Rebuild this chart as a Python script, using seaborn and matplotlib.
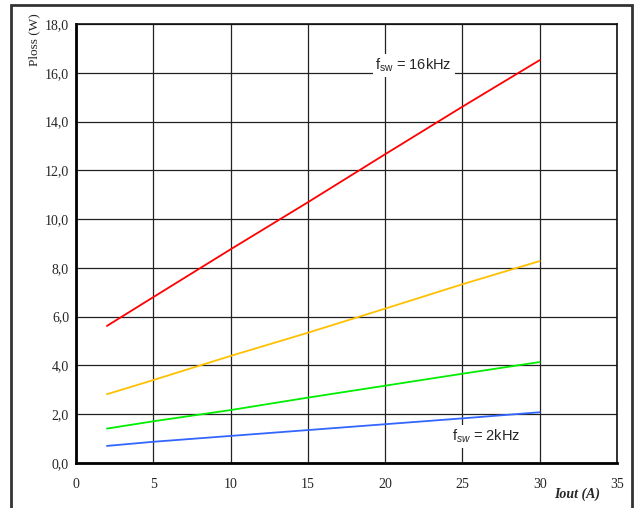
import numpy as np
import pandas as pd
import matplotlib
matplotlib.use("Agg")
import matplotlib.pyplot as plt
import seaborn as sns
from matplotlib.patches import Rectangle

# ---- data ----
iout = [2, 5, 10, 15, 20, 25, 30]
ploss_16k = [5.62, 6.80, 8.76, 10.69, 12.66, 14.61, 16.52]
ploss_8k = [2.82, 3.40, 4.39, 5.34, 6.33, 7.33, 8.28]
ploss_4k = [1.41, 1.71, 2.17, 2.68, 3.17, 3.66, 4.14]
ploss_2k = [0.70, 0.87, 1.11, 1.35, 1.59, 1.83, 2.08]
series_names = ["16kHz", "8kHz", "4kHz", "2kHz"]
series_colors = ["#ff0000", "#ffc000", "#00ee00", "#3366ff"]
x_ticks = [0, 5, 10, 15, 20, 25, 30, 35]
y_ticks = [0, 2, 4, 6, 8, 10, 12, 14, 16, 18]
y_tick_labels = ["0,0", "2,0", "4,0", "6,0", "8,0", "10,0", "12,0", "14,0", "16,0", "18,0"]

df = pd.DataFrame({
    "Iout": iout * 4,
    "Ploss": ploss_16k + ploss_8k + ploss_4k + ploss_2k,
    "fsw": sum([[n] * len(iout) for n in series_names], []),
})

sns.set_style("white")
plt.rcParams["font.family"] = ["Liberation Serif", "DejaVu Serif"]
plt.rcParams["mathtext.fontset"] = "custom"
plt.rcParams["mathtext.rm"] = "Liberation Sans"
plt.rcParams["mathtext.it"] = "Liberation Sans:italic"

fig = plt.figure(figsize=(6.35, 5.08), dpi=100)
ax = fig.add_axes([76 / 635, 1 - 463 / 508, (617 - 76) / 635, (463 - 24) / 508])

sns.lineplot(data=df, x="Iout", y="Ploss", hue="fsw", hue_order=series_names,
             palette=series_colors, linewidth=1.3, legend=False, ax=ax, zorder=3)

ax.set_xlim(0, 35)
ax.set_ylim(0, 18)
ax.set_xticks(x_ticks)
ax.set_xticklabels([str(t) for t in x_ticks], fontsize=10)
ax.set_yticks(y_ticks)
ax.set_yticklabels(y_tick_labels, fontsize=10)
ax.tick_params(axis="both", length=0)
ax.tick_params(axis="x", pad=11)
ax.tick_params(axis="y", pad=5)
ax.grid(True, color="#222222", linewidth=0.9)
ax.set_axisbelow(True)
for side in ["top", "right"]:
    ax.spines[side].set_linewidth(1.2)
    ax.spines[side].set_color("#111111")
for side in ["left", "bottom"]:
    ax.spines[side].set_linewidth(2.0)
    ax.spines[side].set_color("#000000")

ax.set_xlabel("")
ax.set_ylabel("")
fig.text(34 / 635, 1 - 40 / 508, "Ploss (W)", rotation=90, ha="center", va="center",
         fontsize=9.5)
fig.text(577 / 635, 1 - 494 / 508, "Iout (A)", ha="center", va="center",
         fontsize=10, fontweight="bold", style="italic")

ax.text(21.85, 16.3, r"f$_{\mathrm{sw}}$ = 16kHz", ha="center", va="center",
        fontsize=10.5, family="Liberation Sans", zorder=4,
        bbox=dict(facecolor="white", edgecolor="none", pad=2))
ax.text(26.55, 1.1, r"f$_{\mathit{sw}}$ = 2kHz", ha="center", va="center",
        fontsize=10.5, family="Liberation Sans", zorder=4,
        bbox=dict(facecolor="white", edgecolor="none", pad=2))

fig.patches.append(Rectangle((11 / 635, -0.05), (632 - 11) / 635, 1.05 - 5 / 508,
                             transform=fig.transFigure, fill=False,
                             edgecolor="#333333", linewidth=2.0))

fig.savefig("out.png", dpi=100)
